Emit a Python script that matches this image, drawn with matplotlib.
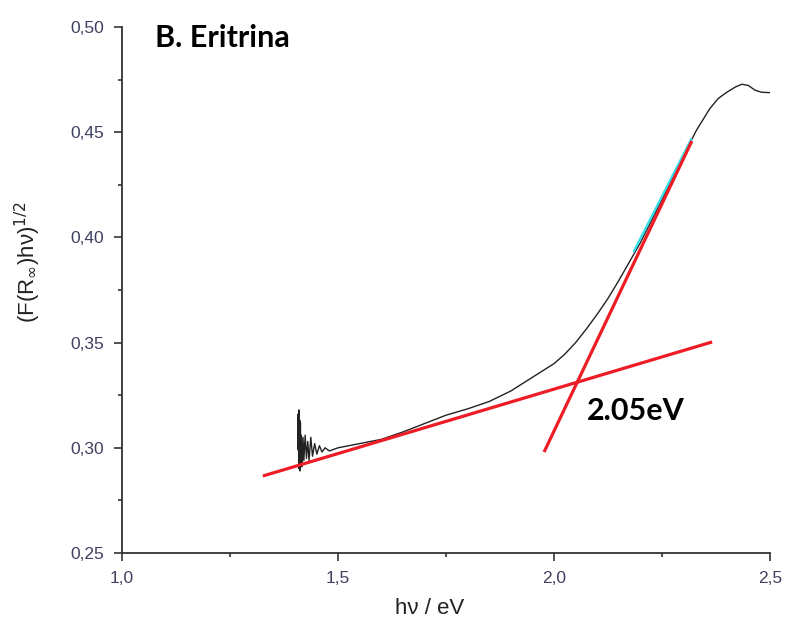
import matplotlib
matplotlib.use("Agg")
import matplotlib.pyplot as plt
from matplotlib.ticker import MultipleLocator, FuncFormatter

# espectro (F(R)hv)^1/2 vs hv
hv = [1.407, 1.4075, 1.408, 1.4085, 1.409, 1.4095, 1.410, 1.4105, 1.411, 1.4115,
      1.412, 1.413, 1.414, 1.415, 1.417, 1.419,
      1.421, 1.424, 1.427, 1.430, 1.433, 1.437, 1.441, 1.446, 1.451, 1.457,
      1.463, 1.470, 1.480, 1.500, 1.550, 1.600, 1.650, 1.700, 1.750, 1.800,
      1.850, 1.900, 1.950, 2.000, 2.025, 2.050, 2.075, 2.100, 2.125, 2.150,
      2.175, 2.200, 2.250, 2.300,
      2.330, 2.360, 2.380, 2.400, 2.420, 2.435, 2.450, 2.465, 2.480, 2.500]
fr = [0.300, 0.316, 0.299, 0.315, 0.292, 0.318, 0.290, 0.314, 0.293, 0.313,
      0.289, 0.312, 0.291, 0.306, 0.291, 0.305,
      0.294, 0.306, 0.295, 0.303, 0.294, 0.305, 0.296, 0.302, 0.297, 0.301,
      0.298, 0.300, 0.2985, 0.300, 0.302, 0.304, 0.3075, 0.3115, 0.3155, 0.3185,
      0.322, 0.327, 0.3335, 0.340, 0.3445, 0.350, 0.3565, 0.3635, 0.371, 0.3795,
      0.3885, 0.3975, 0.418, 0.439,
      0.451, 0.461, 0.466, 0.469, 0.4715, 0.4728, 0.4722, 0.470, 0.469, 0.4688]

# rectas tangentes
base_x = [1.326, 2.366]
base_y = [0.2866, 0.3503]
edge_x = [1.977, 2.319]
edge_y = [0.298, 0.4458]
fit_x = [2.185, 2.317]
fit_y = [0.3935, 0.4465]

gap = "2.05eV"
titulo = "B. Eritrina"

plt.rcParams['font.family'] = ['Liberation Sans', 'DejaVu Sans']

fig = plt.figure(figsize=(7.86, 6.25), dpi=100)
ax = fig.add_axes([122/786, 1-553/625, 648/786, 526/625])

ax.plot(hv, fr, color='#222222', lw=1.0)
ax.plot(fit_x, fit_y, color='#33e0e8', lw=1.6)
ax.plot(base_x, base_y, color='#ee1c25', lw=2.3, solid_capstyle='butt')
ax.plot(edge_x, edge_y, color='#ee1c25', lw=2.3, solid_capstyle='butt')

ax.set_xlim(1.0, 2.5)
ax.set_ylim(0.25, 0.50)
for s in ['top', 'right']:
    ax.spines[s].set_visible(False)
for s in ['left', 'bottom']:
    ax.spines[s].set_color('#333333')
    ax.spines[s].set_linewidth(1.3)

ax.xaxis.set_major_locator(MultipleLocator(0.5))
ax.xaxis.set_minor_locator(MultipleLocator(0.25))
ax.yaxis.set_major_locator(MultipleLocator(0.05))
ax.yaxis.set_minor_locator(MultipleLocator(0.025))
ax.xaxis.set_major_formatter(FuncFormatter(lambda v, p: f"{v:.1f}".replace('.', ',')))
ax.yaxis.set_major_formatter(FuncFormatter(lambda v, p: f"{v:.2f}".replace('.', ',')))
ax.tick_params(which='major', direction='out', length=6, width=1.2, color='#333333',
               labelsize=12.5, labelcolor='#404060', pad=7)
ax.tick_params(which='minor', direction='out', length=3, width=1.2, color='#333333')

ax.set_xlabel("hν / eV", fontsize=16, color='#222222', labelpad=10)
ax.xaxis.set_label_coords(0.474, -0.085)
ax.set_ylabel(r"(F(R$_\infty$)hν)$^{1/2}$", fontsize=16, color='#222222')
ax.yaxis.set_label_coords(-0.122, 0.553)

ax.text(1.076, 0.4905, titulo, fontsize=22, fontweight='bold',
        family=['Lato', 'DejaVu Sans'], va='baseline', ha='left')
ax.text(2.076, 0.3132, gap, fontsize=22, fontweight='bold',
        family=['Lato', 'DejaVu Sans'], va='baseline', ha='left')

fig.savefig("out.png", dpi=100, facecolor='white')
